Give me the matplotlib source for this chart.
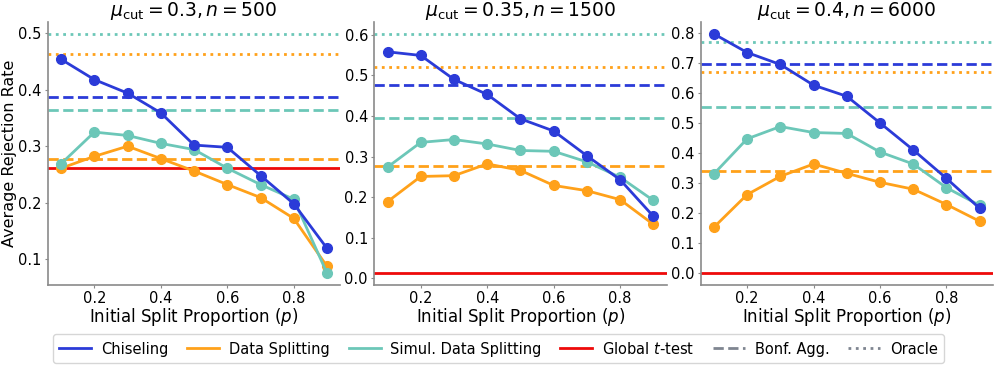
import matplotlib
matplotlib.use("Agg")
import matplotlib.pyplot as plt
from matplotlib.lines import Line2D
from matplotlib.ticker import MultipleLocator

p = [0.1, 0.2, 0.3, 0.4, 0.5, 0.6, 0.7, 0.8, 0.9]

titles = [r"$\mu_{\mathrm{cut}} = 0.3, n = 500$",
          r"$\mu_{\mathrm{cut}} = 0.35, n = 1500$",
          r"$\mu_{\mathrm{cut}} = 0.4, n = 6000$"]

chiseling = [
    [0.454, 0.418, 0.394, 0.359, 0.302, 0.298, 0.248, 0.198, 0.119],
    [0.558, 0.549, 0.490, 0.453, 0.393, 0.363, 0.302, 0.243, 0.153],
    [0.798, 0.736, 0.696, 0.627, 0.590, 0.501, 0.411, 0.316, 0.216],
]
data_split = [
    [0.261, 0.282, 0.300, 0.278, 0.256, 0.232, 0.209, 0.172, 0.087],
    [0.189, 0.251, 0.253, 0.282, 0.266, 0.229, 0.216, 0.194, 0.133],
    [0.153, 0.262, 0.323, 0.364, 0.333, 0.303, 0.280, 0.229, 0.173],
]
simul_split = [
    [0.269, 0.325, 0.319, 0.305, 0.294, 0.261, 0.232, 0.206, 0.075],
    [0.274, 0.335, 0.342, 0.331, 0.315, 0.313, 0.287, 0.249, 0.192],
    [0.331, 0.448, 0.489, 0.469, 0.466, 0.404, 0.364, 0.285, 0.226],
]
global_t = [0.261, 0.013, 0.0]
bonf_chiseling = [0.387, 0.476, 0.697]
bonf_simul = [0.365, 0.395, 0.553]
bonf_split = [0.278, 0.276, 0.342]
oracle_simul = [0.499, 0.602, 0.771]
oracle_split = [0.464, 0.521, 0.671]

BLUE = "#2b3bd8"
ORANGE = "#ffa11a"
TEAL = "#6cc7b8"
RED = "#ee0a0a"
GRAY = "#8a8a8a"

fig, axes = plt.subplots(1, 3, figsize=(9.97, 3.66), dpi=100)
fig.subplots_adjust(left=0.048, right=0.996, top=0.94, bottom=0.221, wspace=0.116)

for i, ax in enumerate(axes):
    lw = 2.0
    ax.axhline(oracle_simul[i], color=TEAL, ls=":", lw=lw)
    ax.axhline(oracle_split[i], color=ORANGE, ls=":", lw=lw)
    ax.axhline(bonf_chiseling[i], color=BLUE, ls="--", lw=lw)
    ax.axhline(bonf_simul[i], color=TEAL, ls="--", lw=lw)
    ax.axhline(bonf_split[i], color=ORANGE, ls="--", lw=lw)
    ax.axhline(global_t[i], color=RED, ls="-", lw=lw)
    ax.plot(p, data_split[i], color=ORANGE, marker="o", ms=7, lw=lw)
    ax.plot(p, simul_split[i], color=TEAL, marker="o", ms=7, lw=lw)
    ax.plot(p, chiseling[i], color=BLUE, marker="o", ms=7, lw=lw)
    ax.set_title(titles[i], fontsize=13.5, pad=1)
    ax.set_xlabel(r"Initial Split Proportion ($p$)", fontsize=12, labelpad=0)
    ax.set_xticks([0.2, 0.4, 0.6, 0.8])
    ax.yaxis.set_major_locator(MultipleLocator(0.1))
    for s in ["top", "right"]:
        ax.spines[s].set_visible(False)
    for s in ["left", "bottom"]:
        ax.spines[s].set_color(GRAY)
        ax.spines[s].set_linewidth(1.2)
    ax.tick_params(axis="both", labelsize=10.5, length=2.5, color=GRAY, pad=2)

axes[0].set_ylabel("Average Rejection Rate", fontsize=11.5, labelpad=1)

handles = [
    Line2D([0], [0], color=BLUE, lw=2),
    Line2D([0], [0], color=ORANGE, lw=2),
    Line2D([0], [0], color=TEAL, lw=2),
    Line2D([0], [0], color=RED, lw=2),
    Line2D([0], [0], color="#7f8590", lw=2, ls="--"),
    Line2D([0], [0], color="#7f8590", lw=2, ls=":"),
]
labels = ["Chiseling", "Data Splitting", "Simul. Data Splitting",
          r"Global $t$-test", "Bonf. Agg.", "Oracle"]
fig.legend(handles, labels, loc="lower center", ncol=6, fontsize=10.5,
           bbox_to_anchor=(0.5, -0.012), frameon=True, columnspacing=1.3,
           handlelength=2.2, handletextpad=0.65, borderpad=0.45)

fig.savefig("out.png", dpi=100)
